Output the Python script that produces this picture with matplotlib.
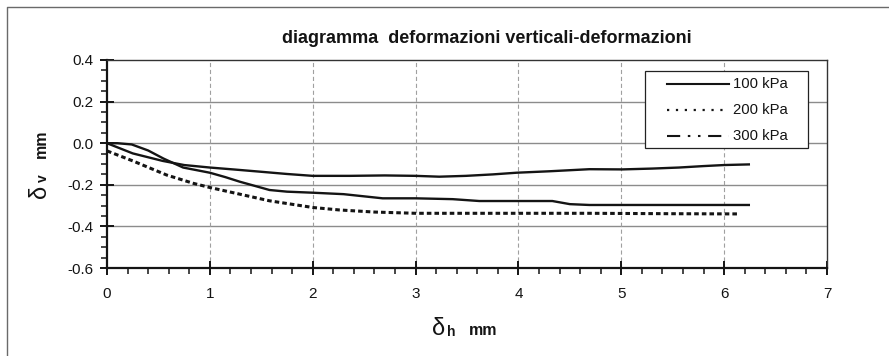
import matplotlib
matplotlib.use("Agg")
import matplotlib.pyplot as plt
from matplotlib.lines import Line2D
from matplotlib.patches import Rectangle
from matplotlib.ticker import MultipleLocator, FormatStrFormatter

# vertical vs horizontal deformation, three normal pressures
p100_x = [0, 0.25, 0.54, 0.75, 1.0, 1.25, 1.49, 1.75, 2.0, 2.36, 2.7, 3.0, 3.23,
          3.49, 3.75, 3.98, 4.3, 4.69, 5.01, 5.3, 5.56, 5.8, 6.0, 6.24]
p100_y = [0, -0.049, -0.085, -0.105, -0.117, -0.127, -0.137, -0.148, -0.157, -0.157,
          -0.155, -0.157, -0.161, -0.157, -0.150, -0.142, -0.135, -0.125, -0.126,
          -0.122, -0.117, -0.110, -0.105, -0.102]

p200_x = [0, 0.25, 0.58, 0.84, 1.0, 1.29, 1.58, 2.0, 2.26, 2.6, 3.0, 3.5, 4.0,
          4.69, 5.5, 6.15]
p200_y = [-0.037, -0.085, -0.153, -0.193, -0.213, -0.245, -0.277, -0.309, -0.321,
          -0.331, -0.337, -0.337, -0.337, -0.337, -0.339, -0.340]

p300_x = [0, 0.1, 0.24, 0.4, 0.55, 0.74, 1.0, 1.15, 1.29, 1.45, 1.58, 1.75, 2.0,
          2.3, 2.68, 3.0, 3.36, 3.62, 3.98, 4.33, 4.50, 4.69, 5.0, 5.56, 6.24]
p300_y = [0, 0.0, -0.006, -0.035, -0.074, -0.117, -0.142, -0.163, -0.185, -0.207,
          -0.225, -0.233, -0.238, -0.245, -0.265, -0.265, -0.269, -0.278, -0.278,
          -0.278, -0.293, -0.297, -0.297, -0.297, -0.297]

labels = ['100 kPa', '200 kPa', '300 kPa']
title = 'diagramma  deformazioni verticali-deformazioni'

plt.rcParams['font.family'] = ['Liberation Sans', 'DejaVu Sans']
plt.rcParams['lines.scale_dashes'] = False

W, H = 889, 356
fig = plt.figure(figsize=(W / 100, H / 100), dpi=100)
ax = fig.add_axes([107 / W, 1 - 268 / H, 720 / W, 208 / H])

ink = '#141414'
ax.plot(p100_x, p100_y, '-', color=ink, lw=1.7, zorder=4)
ax.plot(p200_x, p200_y, color=ink, lw=2.2, dashes=(3.3, 2.2), zorder=4)
ax.plot(p300_x, p300_y, '-', color=ink, lw=1.7, zorder=4)

ax.set_xlim(0, 7)
ax.set_ylim(-0.6, 0.4)
ax.xaxis.set_major_locator(MultipleLocator(1))
ax.xaxis.set_minor_locator(MultipleLocator(0.2))
ax.yaxis.set_major_locator(MultipleLocator(0.2))
ax.yaxis.set_minor_locator(MultipleLocator(0.05))
ax.yaxis.set_major_formatter(FormatStrFormatter('%.1f'))
ax.xaxis.set_major_formatter(FormatStrFormatter('%d'))

ax.tick_params(which='major', direction='inout', length=10, width=1.4,
               labelsize=11, colors=ink)
ax.tick_params(axis='x', which='major', pad=9)
ax.tick_params(axis='y', which='major', pad=5)
ax.tick_params(which='minor', direction='out', length=4.5, width=1.1, colors=ink)

for s in ['left', 'bottom']:
    ax.spines[s].set_linewidth(1.6)
    ax.spines[s].set_color(ink)
for s in ['top', 'right']:
    ax.spines[s].set_linewidth(1.0)
    ax.spines[s].set_color('#333333')

# grid: solid horizontals, broken verticals
for yv in [-0.4, -0.2, 0.0, 0.2]:
    ax.axhline(yv, color='#8c8c8c', lw=1.0, zorder=1)
for xv in [1, 2, 3, 4, 5, 6]:
    ax.axvline(xv, color='#a0a0a0', lw=0.8, dashes=(3, 2), zorder=1)

# legend box
def axx(px):
    return (px - 107) / 720

def axy(py):
    return (268 - py) / 208

ax.add_patch(Rectangle((axx(645), axy(148)), axx(808) - axx(645), axy(71) - axy(148),
                       transform=ax.transAxes, facecolor='white', edgecolor='#222222',
                       lw=0.9, zorder=6))
styles = [dict(ls='-', lw=1.5),
          dict(lw=1.6, dashes=(1.6, 4.8)),
          dict(lw=1.5, dashes=(9.5, 5.5, 1.8, 5.5, 1.8, 5.5))]
for lab, st, py in zip(labels, styles, [84, 110, 136]):
    ax.add_line(Line2D([axx(667), axx(729)], [axy(py), axy(py)], color=ink,
                       transform=ax.transAxes, zorder=7, **st))
    ax.text(axx(733), axy(py), lab, transform=ax.transAxes, fontsize=10.7,
            color=ink, ha='left', va='center', zorder=7)

# title and axis labels
def fx(px):
    return px / W

def fy(py):
    return 1 - py / H

fig.text(fx(487), fy(43), title, fontsize=13, fontweight='bold', color=ink,
         ha='center', va='baseline')

fig.text(fx(432), fy(335), 'δ', fontsize=17, color=ink, ha='left', va='baseline')
fig.text(fx(447), fy(336), 'h', fontsize=10, fontweight='bold', color=ink,
         ha='left', va='baseline')
fig.text(fx(469), fy(335), 'mm', fontsize=11.5, fontweight='bold', color=ink,
         ha='left', va='baseline')

fig.text(fx(46), fy(198), 'δ', fontsize=17, color=ink, rotation=90,
         rotation_mode='anchor', ha='left', va='baseline')
fig.text(fx(47), fy(182), 'v', fontsize=10, fontweight='bold', color=ink, rotation=90,
         rotation_mode='anchor', ha='left', va='baseline')
fig.text(fx(46), fy(158), 'mm', fontsize=11.5, fontweight='bold', color=ink, rotation=90,
         rotation_mode='anchor', ha='left', va='baseline')

# outer frame, open on the right and bottom
fig.add_artist(Line2D([fx(7), fx(7), fx(889)], [fy(356), fy(7), fy(7)],
                      color='#6a6a6a', lw=1.0, transform=fig.transFigure))

fig.savefig('out.png', dpi=100, facecolor='white')
